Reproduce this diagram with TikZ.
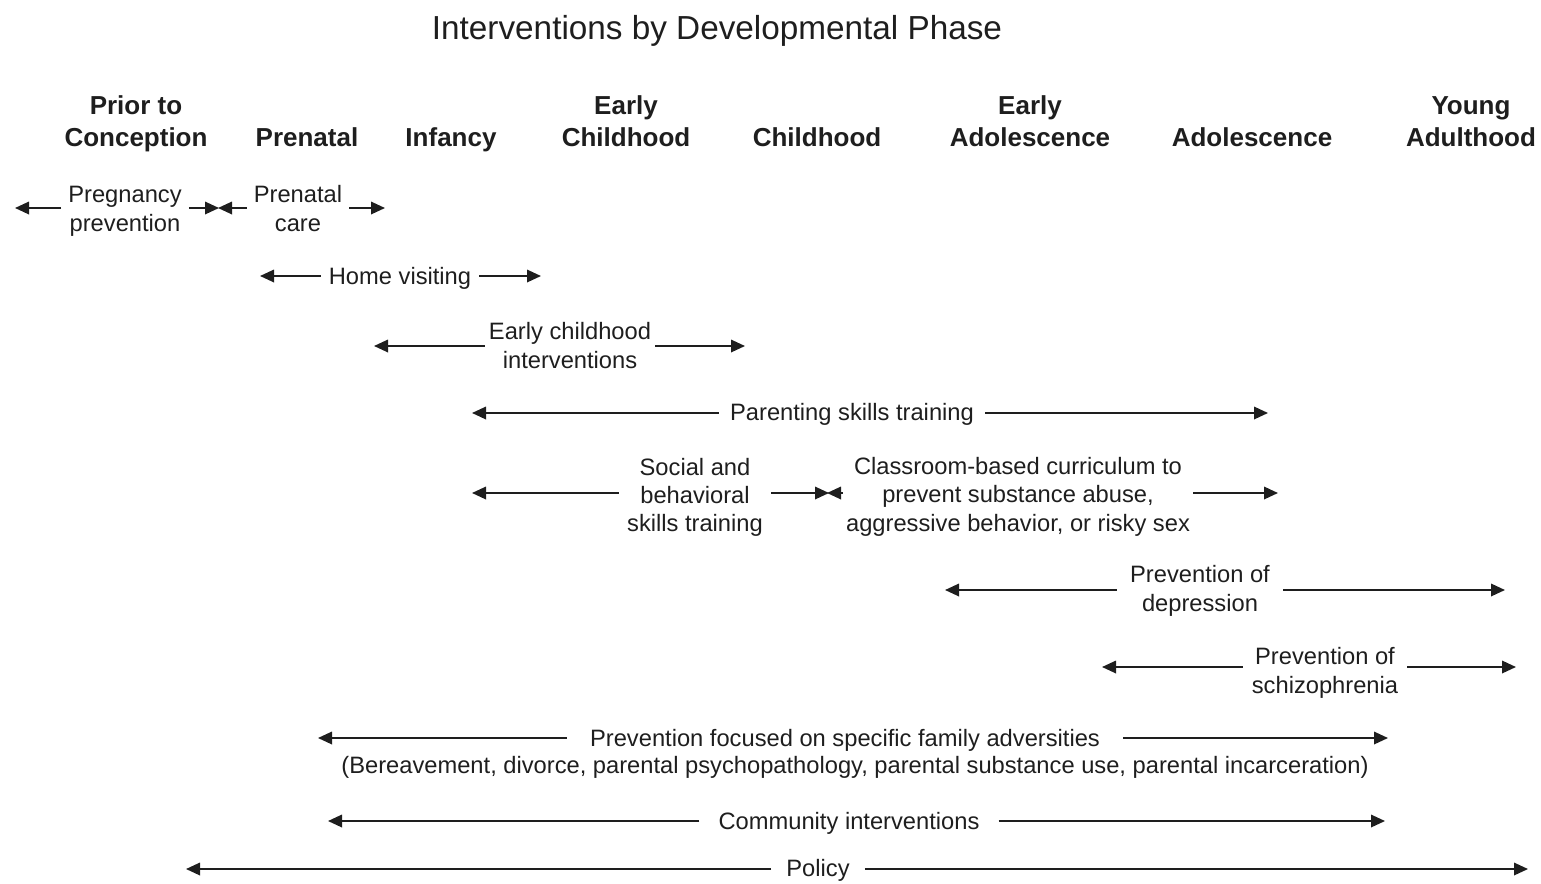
\documentclass[tikz,border=0pt]{standalone}
\usepackage{fontspec}
\setmainfont{Liberation Sans}
\usetikzlibrary{arrows.meta}
\definecolor{ink}{HTML}{1E1E1E}
\newcommand\ls{\rule[-5pt]{0pt}{28.3pt}}
\newcommand\hs{\rule[-7pt]{0pt}{32pt}}
\tikzset{
  lbl/.style={font=\fontsize{23.7}{28}\selectfont, align=center, inner xsep=8, inner ysep=0, text=ink},
  hdr/.style={font=\bfseries\fontsize{26}{32}\selectfont, align=center, inner sep=0, text=ink},
  arr/.style={draw=ink, line width=1.8, -{Triangle[length=14,width=12.5]}},
}
\begin{document}
\begin{tikzpicture}[x=1pt,y=-1pt]
\useasboundingbox (0,0) rectangle (1541,883);
% title
\node[font=\fontsize{33.3}{38}\selectfont, text=ink, inner sep=0] (title) at (717,31) {Interventions by Developmental Phase};
% headers
\node[hdr] (h1) at (136,121) {\hs Prior to\\Conception\hs};
\node[hdr] (h2) at (307,137) {\hs Prenatal};
\node[hdr] (h3) at (451,137) {\hs Infancy};
\node[hdr] (h4) at (626,121) {\hs Early\\Childhood\hs};
\node[hdr] (h5) at (817,137) {\hs Childhood};
\node[hdr] (h6) at (1030,121) {\hs Early\\Adolescence\hs};
\node[hdr] (h7) at (1252,137) {\hs Adolescence};
\node[hdr] (h8) at (1471,121) {\hs Young\\Adulthood\hs};
% row 1
\node[lbl, inner xsep=7] (pp) at (125,208) {\ls Pregnancy\\prevention\ls};
\node[lbl, inner xsep=7] (pc) at (298,208) {\ls Prenatal\\care\ls};
\coordinate (pp1) at (15,208);
\coordinate (pp2) at (219,208);
\coordinate (pc1) at (218,208);
\coordinate (pc2) at (385,208);
\draw[arr] (pp.west |- pp1) -- (pp1);
\draw[arr] (pp.east |- pp2) -- (pp2);
\draw[arr] (pc.west |- pc1) -- (pc1);
\draw[arr] (pc.east |- pc2) -- (pc2);
% home visiting
\node[lbl] (hv) at (400,275) {\ls Home visiting};
\coordinate (hv1) at (260,276);
\coordinate (hv2) at (541,276);
\draw[arr] (hv.west |- hv1) -- (hv1);
\draw[arr] (hv.east |- hv2) -- (hv2);
% early childhood interventions
\node[lbl, inner xsep=4] (ec) at (570,345) {\ls Early childhood\\interventions\ls};
\coordinate (ec1) at (374,346);
\coordinate (ec2) at (745,346);
\draw[arr] (ec.west |- ec1) -- (ec1);
\draw[arr] (ec.east |- ec2) -- (ec2);
% parenting
\node[lbl, inner xsep=11] (ps) at (852,411) {\ls Parenting skills training};
\coordinate (ps1) at (472,413);
\coordinate (ps2) at (1268,413);
\draw[arr] (ps.west |- ps1) -- (ps1);
\draw[arr] (ps.east |- ps2) -- (ps2);
% social and classroom
\node[lbl] (sb) at (695,494) {\ls Social and\\behavioral\\skills training\ls};
\node[lbl, inner xsep=3] (cb) at (1018,494) {\ls Classroom-based curriculum to\\prevent substance abuse,\\aggressive behavior, or risky sex\ls};
\coordinate (sb1) at (472,493);
\coordinate (sb2) at (829,493);
\coordinate (cb1) at (827,493);
\coordinate (cb2) at (1278,493);
\draw[arr] (sb.west |- sb1) -- (sb1);
\draw[arr] (sb.east |- sb2) -- (sb2);
\draw[arr] (cb.west |- cb1) -- (cb1);
\draw[arr] (cb.east |- cb2) -- (cb2);
% depression
\node[lbl, inner xsep=13] (pd) at (1200,588) {\ls Prevention of\\depression\ls};
\coordinate (pd1) at (945,590);
\coordinate (pd2) at (1505,590);
\draw[arr] (pd.west |- pd1) -- (pd1);
\draw[arr] (pd.east |- pd2) -- (pd2);
% schizophrenia
\node[lbl, inner xsep=9] (sz) at (1325,670) {\ls Prevention of\\schizophrenia\ls};
\coordinate (sz1) at (1102,667);
\coordinate (sz2) at (1516,667);
\draw[arr] (sz.west |- sz1) -- (sz1);
\draw[arr] (sz.east |- sz2) -- (sz2);
% family adversities
\node[lbl, inner xsep=23] (fa) at (845,737) {\ls Prevention focused on specific family adversities};
\node[lbl] (fb) at (855,764) {\ls (Bereavement, divorce, parental psychopathology, parental substance use, parental incarceration)};
\coordinate (fa1) at (318,738);
\coordinate (fa2) at (1388,738);
\draw[arr] (fa.west |- fa1) -- (fa1);
\draw[arr] (fa.east |- fa2) -- (fa2);
% community
\node[lbl, inner xsep=19] (ci) at (849,820) {\ls Community interventions};
\coordinate (ci1) at (328,821);
\coordinate (ci2) at (1385,821);
\draw[arr] (ci.west |- ci1) -- (ci1);
\draw[arr] (ci.east |- ci2) -- (ci2);
% policy
\node[lbl, inner xsep=15] (po) at (818,867) {\ls Policy};
\coordinate (po1) at (186,869);
\coordinate (po2) at (1528,869);
\draw[arr] (po.west |- po1) -- (po1);
\draw[arr] (po.east |- po2) -- (po2);
\end{tikzpicture}
\end{document}
